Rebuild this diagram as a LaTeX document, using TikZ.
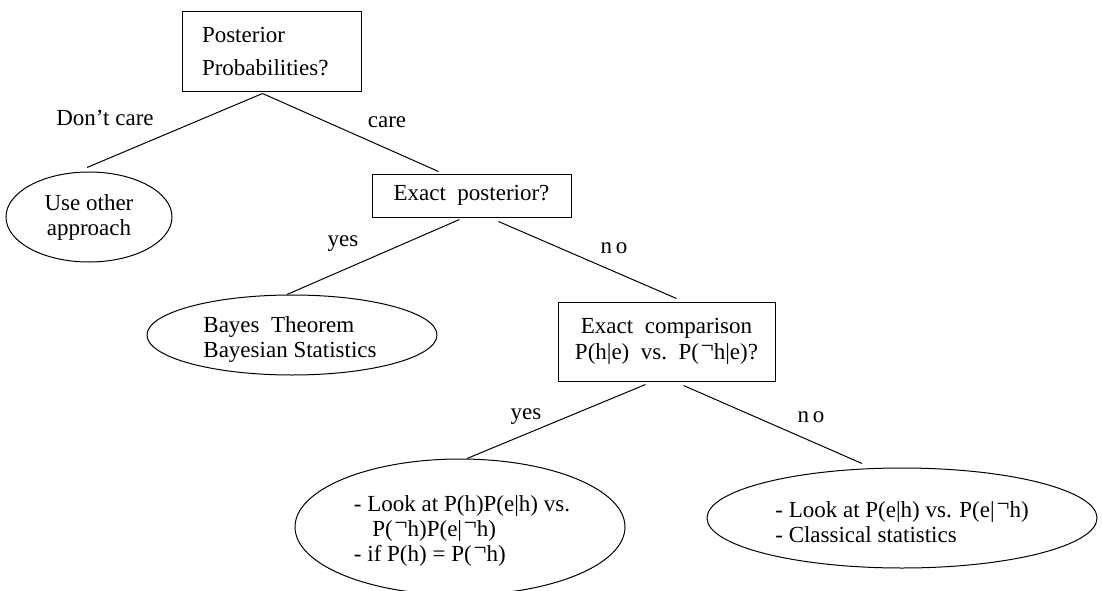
\documentclass[tikz,border=0pt]{standalone}
\usepackage{fontspec}
\setmainfont{Liberation Serif}
\usetikzlibrary{shapes.geometric}
\newcommand{\nh}{\hspace{0.08em}\raisebox{0.25em}{¬}}
\begin{document}
\begin{tikzpicture}[x=1pt,y=-1pt,
  every node/.style={font=\fontsize{23}{25}\selectfont},
  box/.style={draw, rectangle, inner sep=0pt, line width=1pt},
  oval/.style={draw, ellipse, inner sep=0pt, line width=1pt},
  lbl/.style={inner sep=0pt},
  conn/.style={line width=1pt}]
\useasboundingbox (0,0) rectangle (1102,591);

\node[box, minimum width=179pt, minimum height=80pt, text width=139pt, align=left,
      font=\fontsize{23}{33}\selectfont] (post) at (271.5,52) {Posterior\\Probabilities?};
\node[oval, minimum width=166pt, minimum height=90pt, align=center] (useo) at (89,217) {Use other\\approach};
\node[box, minimum width=199pt, minimum height=43pt] (ep) at (471.5,195.5) {Exact\ \ posterior?};
\node[oval, minimum width=290pt, minimum height=80pt] (bayes) at (292,335) {};
\node[lbl, align=left] (bayest) at (290,339) {Bayes\ \ Theorem\\Bayesian Statistics};
\node[box, minimum width=217pt, minimum height=79pt, align=center,
      font=\fontsize{23}{26}\selectfont] (ec) at (666.5,341.5) {Exact\ \ comparison\\P(h|e)\ \ vs.\ \ P(\nh h|e)?};
\node[oval, minimum width=330pt, minimum height=136pt] (bl) at (460,527) {};
\node[lbl, align=left, font=\fontsize{23}{25}\selectfont] (blt) at (462,531)
  {- Look at P(h)P(e|h) vs.\\\hspace{0.8em}P(\nh h)P(e|\nh h)\\- if P(h) = P(\nh h)};
\node[oval, minimum width=390pt, minimum height=100pt] (br) at (902,518) {};
\node[lbl, align=left] (brt) at (902,522)
  {- Look at P(e|h) vs. P(e|\nh h)\\- Classical statistics};

\node[lbl] (l1) at (105,118) {Don’t care};
\node[lbl] (l2) at (387,122) {care};
\node[lbl] (l3) at (343,244) {yes};
\node[lbl] (l4) at (614,248) {n\,o};
\node[lbl] (l5) at (526,417) {yes};
\node[lbl] (l6) at (811,417) {n\,o};

\draw[conn] ([xshift=-9pt,yshift=-1pt]post.south) -- ([xshift=-2pt,yshift=4pt]useo.north);
\draw[conn] ([xshift=-9pt,yshift=-1pt]post.south) -- ([xshift=-33pt,yshift=2pt]ep.north);
\draw[conn] ([xshift=-12pt,yshift=-2pt]ep.south) -- ([xshift=-5pt]bayes.north);
\draw[conn] ([xshift=27pt,yshift=-4pt]ep.south) -- ([xshift=10pt,yshift=3pt]ec.north);
\draw[conn] ([xshift=-21pt,yshift=-3pt]ec.south) -- ([xshift=7pt]bl.north);
\draw[conn] ([xshift=17pt,yshift=-4pt]ec.south) -- ([xshift=-40pt,yshift=4pt]br.north);
\end{tikzpicture}
\end{document}
